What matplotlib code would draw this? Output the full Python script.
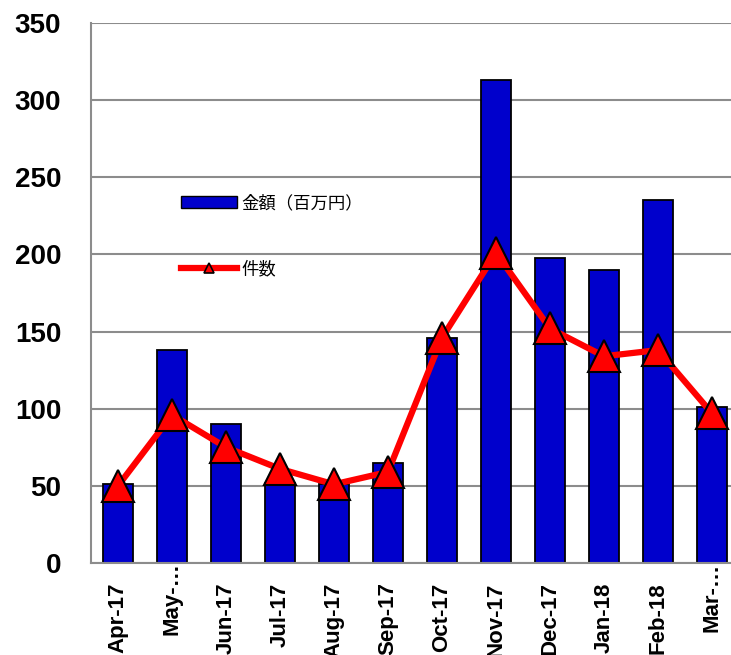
import matplotlib
matplotlib.use("Agg")
import matplotlib.pyplot as plt
from matplotlib.patches import Patch
from matplotlib.lines import Line2D

months = ["Apr-17", "May-…", "Jun-17", "Jul-17", "Aug-17", "Sep-17",
          "Oct-17", "Nov-17", "Dec-17", "Jan-18", "Feb-18", "Mar-…"]
amount = [51, 138, 90, 52, 51, 65, 146, 313, 198, 190, 235, 101]
count = [50, 96, 75, 61, 51, 59, 146, 201, 152, 134, 138, 97]
yticks = [0, 50, 100, 150, 200, 250, 300, 350]
label_amount = "金額（百万円）"
label_count = "件数"

fig = plt.figure(figsize=(7.31, 6.55), dpi=100)
ax = fig.add_axes([91 / 731, 92 / 655, 648 / 731, 540 / 655])

x = list(range(len(months)))
ax.bar(x, amount, width=0.555, color="#0000CC", edgecolor="black",
       linewidth=1.3, zorder=2)
ax.plot(x, count, color="#FF0000", linewidth=4.5, marker="^",
        markersize=23, markerfacecolor="#FF0000", markeredgecolor="black",
        markeredgewidth=1.5, zorder=3)

ax.set_xlim(-0.5, 11.5)
ax.set_ylim(0, 350)
ax.set_yticks(yticks)
ax.set_yticklabels([str(v) for v in yticks], fontsize=20, fontweight="bold",
                   family="Liberation Sans")
ax.set_xticks(x)
ax.set_xticklabels(months, rotation=90, fontsize=16, fontweight="bold",
                   family="Liberation Sans", va="top", ha="center")
ax.tick_params(axis="y", length=0, pad=21.5)
ax.tick_params(axis="x", length=0, pad=14)
for lab in ax.get_xticklabels():
    if lab.get_text().endswith("…"):
        lab.set_y(20 / 540)

ax.grid(axis="y", color="#8C8C8C", linewidth=1.5, zorder=0)
ax.set_axisbelow(True)
for s in ["top", "right"]:
    ax.spines[s].set_visible(False)
for s in ["left", "bottom"]:
    ax.spines[s].set_color("#8C8C8C")
    ax.spines[s].set_linewidth(1.5)

handles = [
    Patch(facecolor="#0000CC", edgecolor="black", linewidth=1.0),
    Line2D([0], [0], color="#FF0000", linewidth=4.5, marker="^", markersize=7,
           markerfacecolor="#FF0000", markeredgecolor="black", markeredgewidth=1.2),
]
fig.legend(handles, [label_amount, label_count], loc="center left",
           bbox_to_anchor=(181 / 731, 1 - 236 / 655), frameon=False,
           prop={"family": ["Noto Sans CJK JP", "DejaVu Sans"], "size": 12.5},
           handlelength=3.2, handleheight=0.6, handletextpad=0.3,
           labelspacing=2.75, borderpad=0, borderaxespad=0)

fig.savefig("out.png", dpi=100)
